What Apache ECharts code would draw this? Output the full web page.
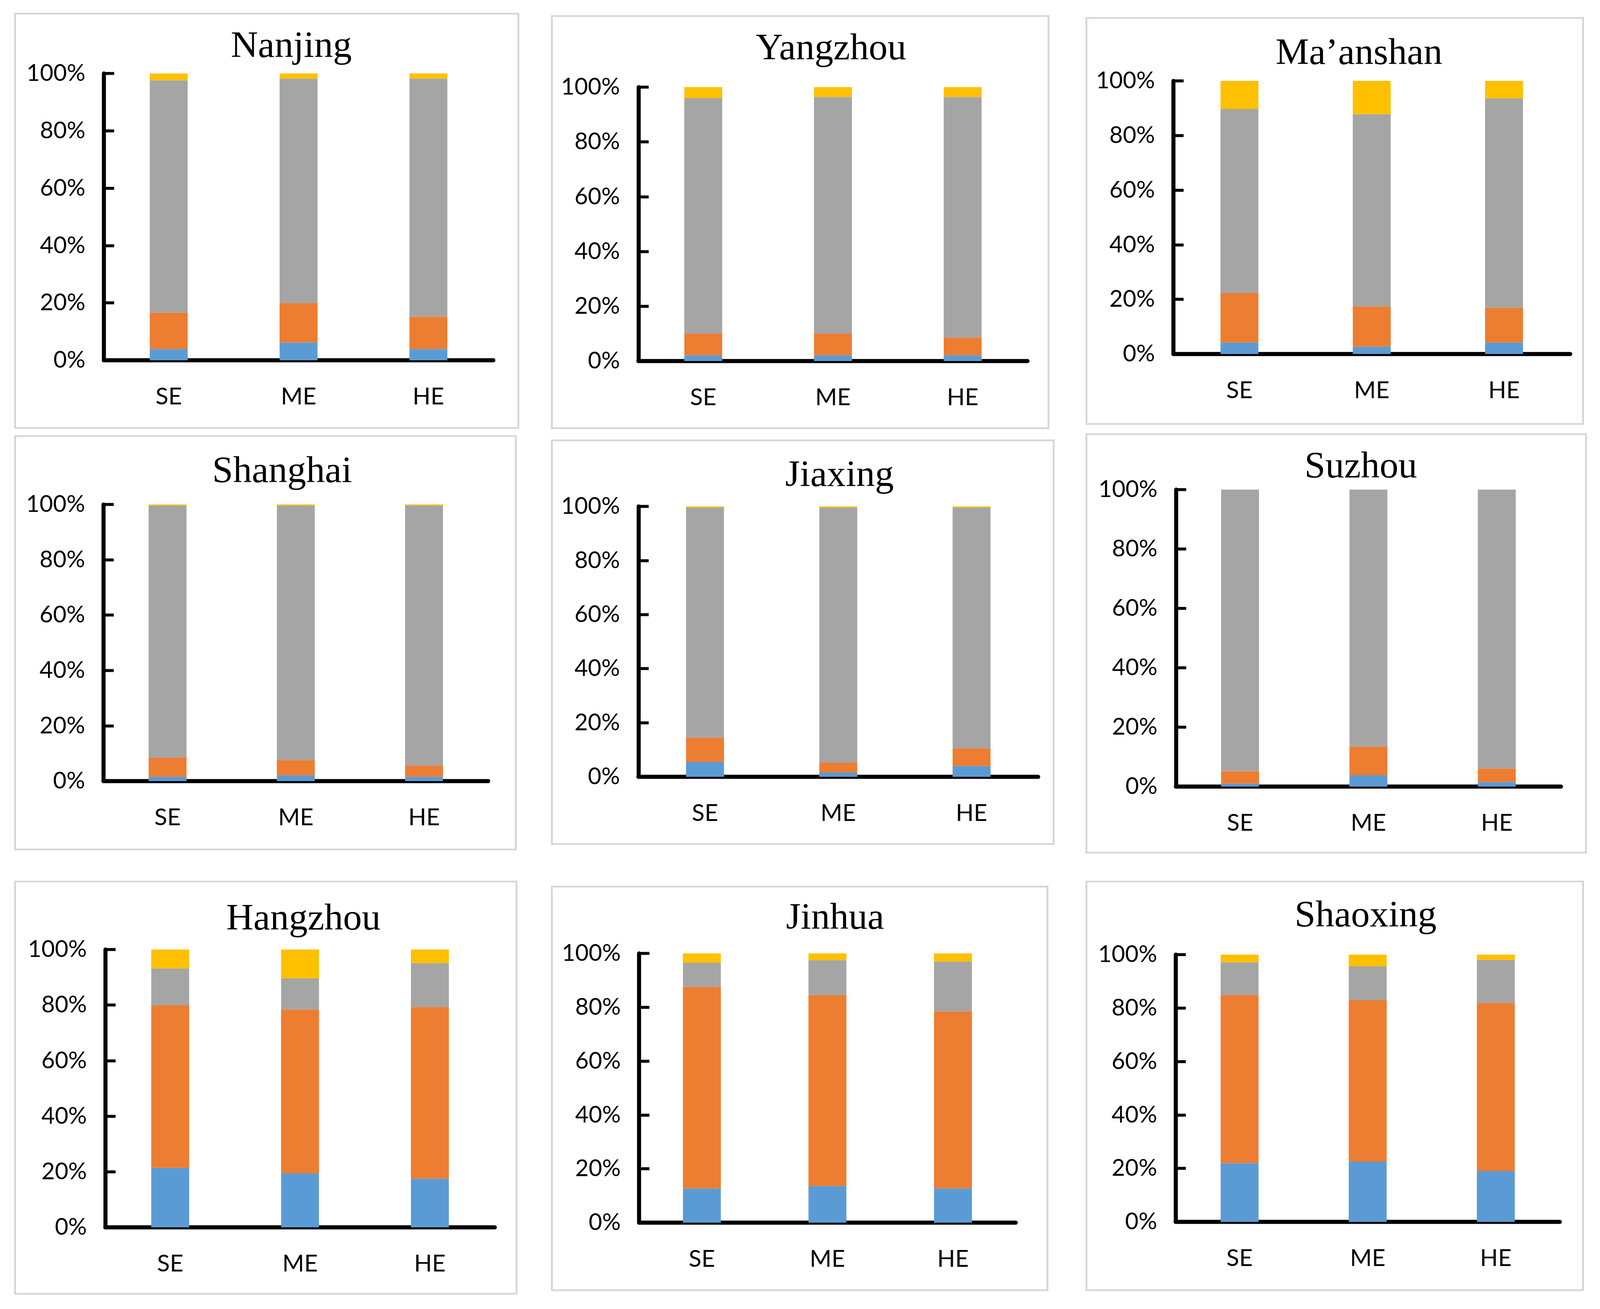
<!DOCTYPE html>
<html>
<head>
<meta charset="utf-8">
<script src="https://cdn.jsdelivr.net/npm/echarts@6/dist/echarts.min.js"></script>
<style>
html,body{margin:0;padding:0;background:#fff;overflow:hidden;width:100%;height:100%;}
#chart{width:100vw;height:100vh;}
</style>
</head>
<body>
<div id="chart"></div>
<script>
// ---- data ----
var cities = ['Nanjing', 'Yangzhou', 'Ma\u2019anshan', 'Shanghai', 'Jiaxing', 'Suzhou', 'Hangzhou', 'Jinhua', 'Shaoxing'];
var categories = ['SE', 'ME', 'HE'];
var yTicks = [0, 20, 40, 60, 80, 100];
// segment shares (%) per city, order SE, ME, HE
var blueVals = [
  [3.9, 6.2, 3.9], [2.1, 2.1, 2.1], [4.2, 2.7, 4.2],
  [1.6, 2.1, 1.6], [5.5, 1.6, 4.0], [1.0, 3.8, 1.5],
  [21.4, 19.4, 17.5], [12.7, 13.6, 12.7], [22.0, 22.5, 19.0]
];
var orangeVals = [
  [12.7, 13.7, 11.3], [7.9, 7.9, 6.5], [18.1, 14.7, 12.7],
  [6.9, 5.5, 4.0], [9.0, 3.6, 6.5], [4.2, 9.7, 4.6],
  [58.5, 59.0, 61.8], [74.9, 70.9, 65.8], [62.9, 60.4, 62.9]
];
var greyVals = [
  [81.0, 78.3, 83.0], [86.0, 86.4, 87.8], [67.4, 70.4, 76.7],
  [91.1, 92.0, 94.0], [85.1, 94.4, 89.1], [94.8, 86.5, 93.9],
  [13.3, 11.2, 15.8], [8.9, 13.0, 18.5], [12.2, 12.7, 16.1]
];
var yellowVals = [
  [2.4, 1.8, 1.8], [4.0, 3.6, 3.6], [10.3, 12.2, 6.4],
  [0.4, 0.4, 0.4], [0.4, 0.4, 0.4], [0, 0, 0],
  [6.8, 10.4, 4.9], [3.5, 2.5, 3.0], [2.9, 4.4, 2.0]
];

// ---- layout (reference pixels, 4346 x 3350) ----
var REF_W = 4346, REF_H = 3350;
// plot area: [left, top(100%), right, bottom(0%)]
var plotBoxes = [
  [282, 188, 1340, 922], [1734, 223, 2791, 924], [3187, 207, 4265, 906],
  [281, 1291, 1326, 1999], [1734, 1296, 2820, 1988], [3194, 1253, 4240, 2013],
  [286, 2430, 1344, 3141], [1736, 2440, 2759, 3129], [3193, 2443, 4237, 3127]
];
// title centre x and baseline y
var titlePos = [
  [786, 148], [2252, 154], [3686, 166],
  [761, 1236], [2275, 1246], [3691, 1224],
  [819, 2381], [2263, 2379], [3704, 2373]
];
// panel frame [x1, y1, x2, y2]
var frames = [
  [41, 35, 1408, 1095], [1499, 41, 2848, 1096], [2951, 46, 4300, 1085],
  [41, 1116, 1401, 2174], [1499, 1127, 2862, 2160], [2951, 1111, 4308, 2182],
  [41, 2256, 1403, 3311], [1499, 2269, 2845, 3302], [2951, 2256, 4300, 3302]
];

var colors = ['#5B9BD5', '#ED7D31', '#A5A5A5', '#FFC000'];
var segData = [blueVals, orangeVals, greyVals, yellowVals];
var segNames = ['S1', 'S2', 'S3', 'S4'];

var labelFont = 'Lato, "Open Sans", sans-serif';
var titleFont = '"Liberation Serif", "Times New Roman", serif';

var el = document.getElementById('chart');
var W = el.clientWidth || window.innerWidth, H = el.clientHeight || window.innerHeight;
var kx = W / REF_W, ky = H / REF_H, k = Math.min(kx, ky);
function X(v) { return v * kx; }
function Y(v) { return v * ky; }
function S(v) { return v * k; }

var grids = [], xAxes = [], yAxes = [], series = [], titles = [], graphics = [];
for (var i = 0; i < cities.length; i++) {
  var b = plotBoxes[i];
  grids.push({left: X(b[0]), top: Y(b[1]), width: X(b[2] - b[0]), height: Y(b[3] - b[1]), containLabel: false});
  xAxes.push({
    type: 'category', gridIndex: i, data: categories,
    axisLine: {show: true, lineStyle: {color: '#000', width: S(11)}},
    axisTick: {show: false},
    axisLabel: {color: '#000', fontSize: S(64), fontFamily: labelFont, margin: Y(64)}
  });
  yAxes.push({
    type: 'value', gridIndex: i, min: yTicks[0], max: yTicks[yTicks.length - 1], interval: 20,
    axisLine: {show: true, lineStyle: {color: '#000', width: S(11)}},
    axisTick: {show: true, inside: true, length: X(28), lineStyle: {color: '#000', width: S(8)}},
    splitLine: {show: false},
    axisLabel: {color: '#000', fontSize: S(63), fontFamily: labelFont, margin: X(50), formatter: '{value}%'}
  });
  for (var s = 0; s < 4; s++) {
    series.push({
      type: 'bar', name: segNames[s], xAxisIndex: i, yAxisIndex: i,
      stack: 'c' + i, barWidth: X(103), data: segData[s][i],
      itemStyle: {color: colors[s]}, silent: true, animation: false
    });
  }
  var t = titlePos[i];
  titles.push({
    text: cities[i], left: X(t[0]), top: Y(t[1]) - S(91), textAlign: 'center',
    textStyle: {fontFamily: titleFont, fontSize: S(102), fontWeight: 'normal', color: '#000', lineHeight: S(114)}
  });
  var f = frames[i];
  graphics.push({
    type: 'rect', silent: true, z: -1,
    shape: {x: X(f[0]), y: Y(f[1]), width: X(f[2] - f[0]), height: Y(f[3] - f[1])},
    style: {fill: 'none', stroke: '#d6d6d6', lineWidth: S(5)}
  });
}

var chart = echarts.init(el, null, {renderer: 'canvas', width: W, height: H});
chart.setOption({
  backgroundColor: '#fff',
  animation: false,
  title: titles,
  grid: grids,
  xAxis: xAxes,
  yAxis: yAxes,
  series: series,
  graphic: graphics
});
</script>
</body>
</html>
